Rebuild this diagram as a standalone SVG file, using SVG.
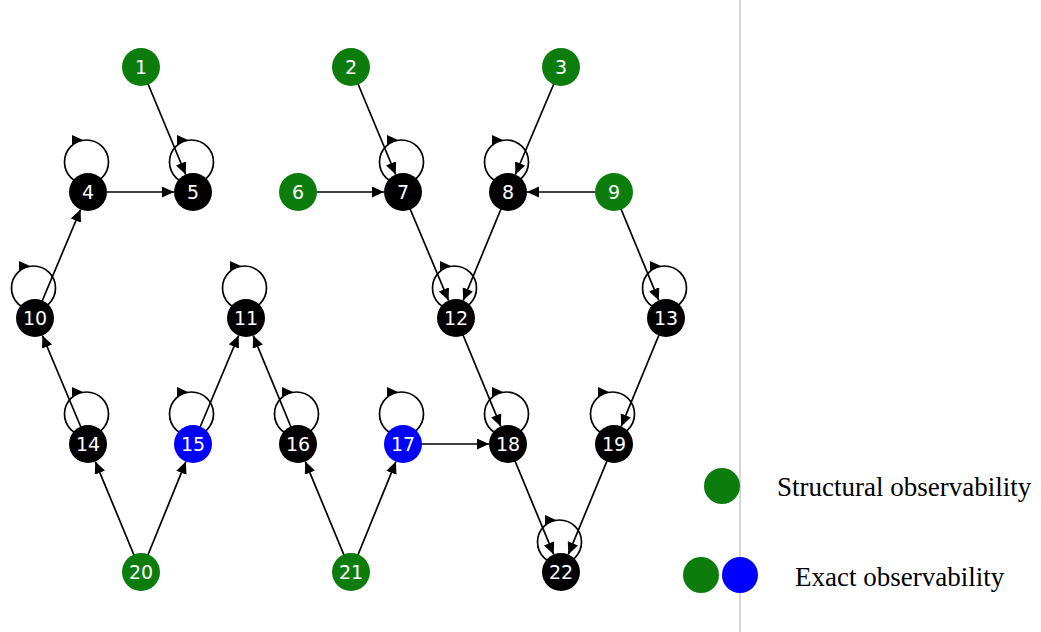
<svg xmlns="http://www.w3.org/2000/svg" width="1041" height="632" viewBox="0 0 1041 632">
<style>
.e{stroke:#000;stroke-width:1.7;fill:none;marker-end:url(#ah)}
.lp{stroke:#000;stroke-width:1.7;fill:none}
.ht{fill:#000}
.g{fill:#0c7d0c}
.b{fill:#0000ff}
.k{fill:#000}
.t{fill:#fff;font-family:"DejaVu Sans",sans-serif;font-size:19px;text-anchor:middle}
.lg{fill:#000;font-family:"Liberation Serif",serif;font-size:27px}
</style>
<defs>
<marker id="ah" markerUnits="userSpaceOnUse" markerWidth="15" markerHeight="12" refX="12" refY="5.5" orient="auto">
<path d="M0,0 L12,5.5 L0,11 Z" fill="#000"/>
</marker>
<g id="loop">
<circle cx="-1.5" cy="-30" r="22" class="lp"/>
<path d="M-16,-57 L-5,-52 L-16,-47 Z" class="ht"/>
</g>
</defs>
<rect width="1041" height="632" fill="#fff"/>
<line x1="740" y1="0" x2="740" y2="632" stroke="#c8c8c8" stroke-width="1.5"/>
<g id="connectors">
<line class="e" x1="141" y1="67" x2="185.7" y2="174.5"/>
<line class="e" x1="88" y1="192" x2="174" y2="192"/>
<line class="e" x1="35" y1="318" x2="80.6" y2="209.5"/>
<line class="e" x1="351" y1="67" x2="395.7" y2="174.5"/>
<line class="e" x1="298" y1="192" x2="384" y2="192"/>
<line class="e" x1="561" y1="67" x2="515.4" y2="174.5"/>
<line class="e" x1="614" y1="192" x2="527" y2="192"/>
<line class="e" x1="403" y1="192" x2="448.6" y2="300.5"/>
<line class="e" x1="508" y1="192" x2="463.2" y2="300.4"/>
<line class="e" x1="614" y1="192" x2="658.8" y2="300.4"/>
<line class="e" x1="88" y1="444" x2="42.4" y2="335.5"/>
<line class="e" x1="193" y1="444" x2="238.6" y2="335.5"/>
<line class="e" x1="298" y1="444" x2="253.2" y2="335.6"/>
<line class="e" x1="141" y1="572" x2="95.3" y2="461.6"/>
<line class="e" x1="141" y1="572" x2="185.9" y2="461.6"/>
<line class="e" x1="351" y1="572" x2="305.3" y2="461.6"/>
<line class="e" x1="351" y1="572" x2="395.9" y2="461.6"/>
<line class="e" x1="403" y1="444" x2="489" y2="444"/>
<line class="e" x1="456" y1="318" x2="500.8" y2="426.4"/>
<line class="e" x1="666" y1="318" x2="621.2" y2="426.4"/>
<line class="e" x1="508" y1="444" x2="553.7" y2="554.4"/>
<line class="e" x1="614" y1="444" x2="568.3" y2="554.4"/>
<use href="#loop" x="88" y="192"/>
<use href="#loop" x="193" y="192"/>
<use href="#loop" x="403" y="192"/>
<use href="#loop" x="508" y="192"/>
<use href="#loop" x="35" y="318"/>
<use href="#loop" x="246" y="318"/>
<use href="#loop" x="456" y="318"/>
<use href="#loop" x="666" y="318"/>
<use href="#loop" x="88" y="444"/>
<use href="#loop" x="193" y="444"/>
<use href="#loop" x="298" y="444"/>
<use href="#loop" x="403" y="444"/>
<use href="#loop" x="508" y="444"/>
<use href="#loop" x="614" y="444"/>
<use href="#loop" x="561" y="572"/>
</g>
<g id="n1"><circle class="g" cx="141" cy="67" r="19"/><text class="t" x="141" y="74">1</text></g>
<g id="n2"><circle class="g" cx="351" cy="67" r="19"/><text class="t" x="351" y="74">2</text></g>
<g id="n3"><circle class="g" cx="561" cy="67" r="19"/><text class="t" x="561" y="74">3</text></g>
<g id="n4"><circle class="k" cx="88" cy="192" r="19"/><text class="t" x="88" y="199">4</text></g>
<g id="n5"><circle class="k" cx="193" cy="192" r="19"/><text class="t" x="193" y="199">5</text></g>
<g id="n6"><circle class="g" cx="298" cy="192" r="19"/><text class="t" x="298" y="199">6</text></g>
<g id="n7"><circle class="k" cx="403" cy="192" r="19"/><text class="t" x="403" y="199">7</text></g>
<g id="n8"><circle class="k" cx="508" cy="192" r="19"/><text class="t" x="508" y="199">8</text></g>
<g id="n9"><circle class="g" cx="614" cy="192" r="19"/><text class="t" x="614" y="199">9</text></g>
<g id="n10"><circle class="k" cx="35" cy="318" r="19"/><text class="t" x="35" y="325">10</text></g>
<g id="n11"><circle class="k" cx="246" cy="318" r="19"/><text class="t" x="246" y="325">11</text></g>
<g id="n12"><circle class="k" cx="456" cy="318" r="19"/><text class="t" x="456" y="325">12</text></g>
<g id="n13"><circle class="k" cx="666" cy="318" r="19"/><text class="t" x="666" y="325">13</text></g>
<g id="n14"><circle class="k" cx="88" cy="444" r="19"/><text class="t" x="88" y="451">14</text></g>
<g id="n15"><circle class="b" cx="193" cy="444" r="19"/><text class="t" x="193" y="451">15</text></g>
<g id="n16"><circle class="k" cx="298" cy="444" r="19"/><text class="t" x="298" y="451">16</text></g>
<g id="n17"><circle class="b" cx="403" cy="444" r="19"/><text class="t" x="403" y="451">17</text></g>
<g id="n18"><circle class="k" cx="508" cy="444" r="19"/><text class="t" x="508" y="451">18</text></g>
<g id="n19"><circle class="k" cx="614" cy="444" r="19"/><text class="t" x="614" y="451">19</text></g>
<g id="n20"><circle class="g" cx="141" cy="572" r="19"/><text class="t" x="141" y="579">20</text></g>
<g id="n21"><circle class="g" cx="351" cy="572" r="19"/><text class="t" x="351" y="579">21</text></g>
<g id="n22"><circle class="k" cx="561" cy="572" r="19"/><text class="t" x="561" y="579">22</text></g>
<g id="legend">
<circle class="g" cx="722" cy="486" r="18"/>
<text class="lg" x="777" y="496">Structural observability</text>
<circle class="g" cx="701" cy="575" r="18"/>
<circle class="b" cx="740" cy="575" r="18"/>
<text class="lg" x="795" y="586">Exact observability</text>
</g>
</svg>
